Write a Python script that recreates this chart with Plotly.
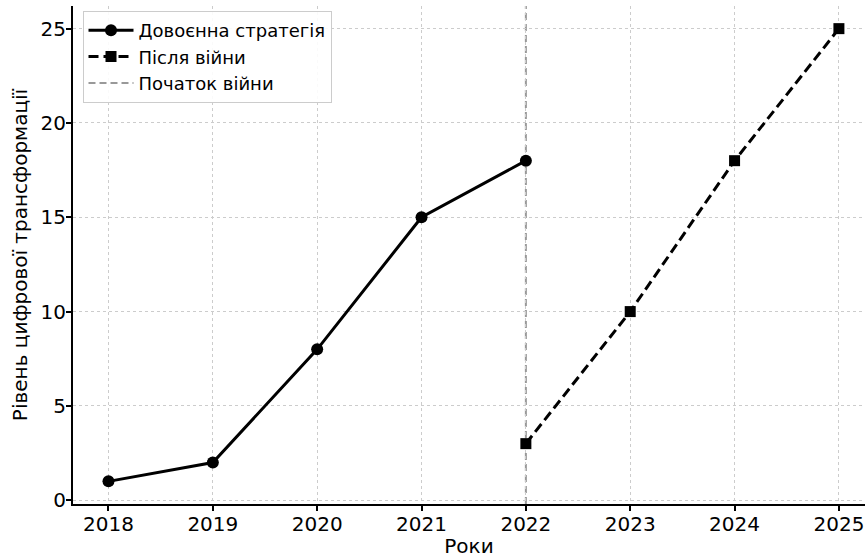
import plotly.graph_objects as go

years_pre = [2018, 2019, 2020, 2021, 2022]
values_pre = [1, 2, 8, 15, 18]
years_post = [2022, 2023, 2024, 2025]
values_post = [3, 10, 18, 25]
war_start = 2022

name_pre = "Довоєнна стратегія"
name_post = "Після війни"
name_war = "Початок війни"

fig = go.Figure()
fig.add_trace(go.Scatter(
    x=years_pre, y=values_pre, mode="lines+markers", name=name_pre,
    legendgroup="a",
    line=dict(color="black", width=3),
    marker=dict(symbol="circle", size=12, color="black"),
))
fig.add_trace(go.Scatter(
    x=years_post, y=values_post, mode="lines+markers", name=name_post,
    legendgroup="b",
    line=dict(color="black", width=3, dash="10px,5px"),
    marker=dict(symbol="square", size=11, color="black"),
))
fig.add_vline(
    x=war_start, line=dict(color="#999999", width=2, dash="7px,4px"),
    layer="below", showlegend=True, name=name_war, legendgroup="c",
)

font = "DejaVu Sans"
fig.update_layout(
    width=865, height=558,
    margin=dict(l=73, r=0, t=6, b=54),
    paper_bgcolor="white", plot_bgcolor="white",
    font=dict(family=font, size=20, color="black"),
    showlegend=True,
    legend=dict(
        x=0.012, y=0.99, xanchor="left", yanchor="top",
        bgcolor="rgba(255,255,255,0.9)", bordercolor="#cccccc", borderwidth=1,
        font=dict(family=font, size=18, color="black"),
        itemwidth=45, tracegroupgap=0,
    ),
    xaxis=dict(
        range=[2017.66, 2025.25], tickmode="array",
        tickvals=[2018, 2019, 2020, 2021, 2022, 2023, 2024, 2025],
        showgrid=True, gridcolor="#cccccc", griddash="dot", gridwidth=1,
        showline=True, linecolor="black", linewidth=2,
        ticks="outside", ticklen=5, tickwidth=1.5, tickcolor="black",
        ticklabelstandoff=-4,
        zeroline=False,
        title=dict(text="Роки", font=dict(size=20), standoff=4),
    ),
    yaxis=dict(
        range=[-0.2, 26.2], tickmode="array",
        tickvals=[0, 5, 10, 15, 20, 25],
        showgrid=True, gridcolor="#cccccc", griddash="dot", gridwidth=1,
        showline=True, linecolor="black", linewidth=2,
        ticks="outside", ticklen=5, tickwidth=1.5, tickcolor="black",
        ticklabelstandoff=-4,
        zeroline=False,
        title=dict(text="Рівень цифрової трансформації", font=dict(size=20), standoff=8),
    ),
)

fig.write_html(
    "out.html",
    config={"displayModeBar": False},
    post_script="document.body.style.margin='0';document.body.style.overflow='hidden';",
)
